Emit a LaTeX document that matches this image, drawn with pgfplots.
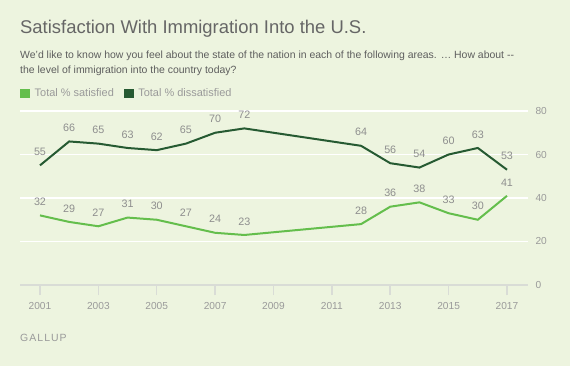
\documentclass[border=0pt]{standalone}
\usepackage{pgfplots}
\pgfplotsset{compat=1.18}
\usepackage{fontspec}
\setmainfont{Liberation Sans}
\definecolor{bg}{HTML}{EDF4DF}
\definecolor{titlec}{HTML}{666666}
\definecolor{subc}{HTML}{5E5E5E}
\definecolor{lightc}{HTML}{9A9A9A}
\definecolor{labc}{HTML}{8E8E8E}
\definecolor{satc}{HTML}{64BE4C}
\definecolor{disc}{HTML}{265A32}
\definecolor{axc}{HTML}{D9DCD6}
\begin{document}
\begin{tikzpicture}
\fill[bg] (0bp,0bp) rectangle (570bp,366bp);
\node[anchor=base west, inner sep=0, text=titlec, font=\fontsize{18.5}{20}\selectfont] at (20bp,332bp) {Satisfaction With Immigration Into the U.S.};
\node[anchor=base west, inner sep=0, text=subc, font=\fontsize{10.5}{13}\selectfont] at (20bp,307bp) {We’d like to know how you feel about the state of the nation in each of the following areas. … How about -{}-};
\node[anchor=base west, inner sep=0, text=subc, font=\fontsize{10.5}{13}\selectfont] at (20bp,292.5bp) {the level of immigration into the country today?};
\node[anchor=base west, inner sep=0, text=lightc, font=\fontsize{10.5}{12}\selectfont\addfontfeatures{LetterSpace=10}] at (20bp,24.3bp) {GALLUP};
\begin{axis}[
  at={(20bp,81bp)}, anchor=south west,
  scale only axis, width=508bp, height=174bp,
  xmin=2000.315, xmax=2017.72, ymin=0, ymax=80,
  axis x line=bottom, axis y line*=right,
  x axis line style={-, draw=axc, line width=1.5bp},
  y axis line style={draw=none},
  xtick={2001,2003,...,2017},
  ytick={0,20,40,60,80},
  xtick align=outside,
  major tick length=10bp,
  xtick style={draw=axc, line width=1.5bp},
  ytick style={draw=none},
  ymajorgrids,
  major grid style={draw=white, line width=1.5bp},
  /pgf/number format/assume math mode=true,
  /pgf/number format/1000 sep={},
  tick label style={text=lightc, font=\fontsize{10.2}{12}\selectfont},
  yticklabel style={anchor=west, xshift=4bp},
  xticklabel style={yshift=-3.5bp},
  nodes near coords,
  every node near coord/.append style={text=labc, font=\fontsize{10.8}{12}\selectfont, anchor=south, yshift=5.5bp},
  legend columns=2,
  legend style={at={(rel axis cs:0,1.1)}, anchor=west, draw=none, fill=none,
    font=\fontsize{11}{12}\selectfont, text=lightc, inner sep=0pt,
    /tikz/every odd column/.append style={column sep=2.5bp},
    /tikz/every even column/.append style={column sep=8bp}},
  legend image code/.code={\fill[#1, draw=none] (0bp,-4.5bp) rectangle (10bp,4.5bp);},
]
\addplot[color=satc, line width=2bp, mark=none] coordinates {
(2001,32) (2002,29) (2003,27) (2004,31) (2005,30) (2006,27) (2007,24) (2008,23)
(2012,28) (2013,36) (2014,38) (2015,33) (2016,30) (2017,41)};
\addlegendentry{Total \% satisfied}
\addplot[color=disc, line width=2bp, mark=none] coordinates {
(2001,55) (2002,66) (2003,65) (2004,63) (2005,62) (2006,65) (2007,70) (2008,72)
(2012,64) (2013,56) (2014,54) (2015,60) (2016,63) (2017,53)};
\addlegendentry{Total \% dissatisfied}
\end{axis}
\end{tikzpicture}
\end{document}
